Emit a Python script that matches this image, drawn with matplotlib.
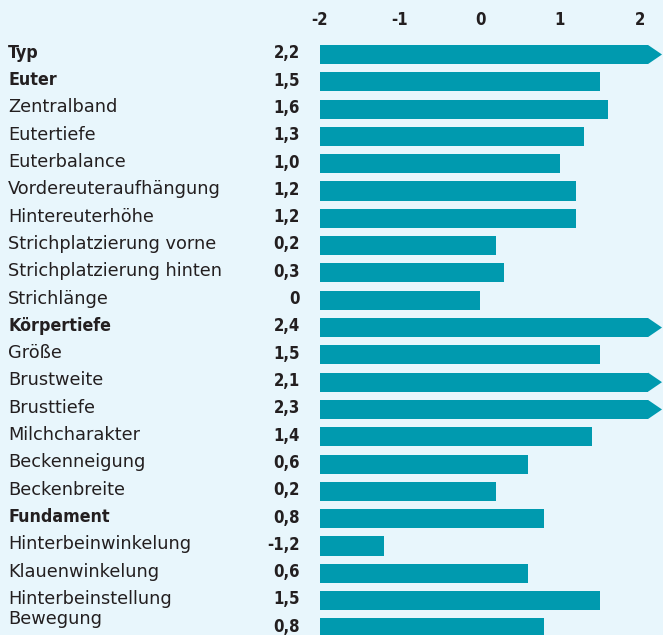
import numpy as np
import matplotlib.pyplot as plt
from matplotlib.patches import Polygon

# Merkmale und Zuchtwerte
labels = ['Typ', 'Euter', 'Zentralband', 'Eutertiefe', 'Euterbalance',
          'Vordereuteraufhängung', 'Hintereuterhöhe', 'Strichplatzierung vorne',
          'Strichplatzierung hinten', 'Strichlänge', 'Körpertiefe', 'Größe',
          'Brustweite', 'Brusttiefe', 'Milchcharakter', 'Beckenneigung',
          'Beckenbreite', 'Fundament', 'Hinterbeinwinkelung', 'Klauenwinkelung',
          'Hinterbeinstellung', 'Bewegung']
values = [2.2, 1.5, 1.6, 1.3, 1.0, 1.2, 1.2, 0.2, 0.3, 0.0, 2.4, 1.5,
          2.1, 2.3, 1.4, 0.6, 0.2, 0.8, -1.2, 0.6, 1.5, 0.8]
bold_rows = ['Typ', 'Euter', 'Körpertiefe', 'Fundament']
ticks = [-2, -1, 0, 1, 2]

bg = '#e8f6fc'
bar_color = '#009aaf'
text_color = '#231f20'

fig = plt.figure(figsize=(6.63, 6.35), dpi=100, facecolor=bg)
ax = fig.add_axes([0, 0, 1, 1])
ax.set_facecolor(bg)
ax.set_xlim(-6, 2.2875)
ax.set_ylim(21.26, -1.996)
ax.axis('off')

base = -2
cap = 2.1
h = 0.7
n = len(labels)

for i, (lab, v) in enumerate(zip(labels, values)):
    if v > 2:
        # Wert ausserhalb der Skala: Balken mit Pfeilspitze
        ax.barh(i, cap - base, left=base, height=h, color=bar_color)
        tri = Polygon([[cap, i - h / 2], [2.275, i], [cap, i + h / 2]],
                      closed=True, color=bar_color, lw=0)
        ax.add_patch(tri)
    else:
        ax.barh(i, v - base, left=base, height=h, color=bar_color)

    # letzte Zeile etwas hoeher, damit sie nicht abgeschnitten wird
    ly = min(i + 0.12, n - 1.13)
    if lab in bold_rows:
        ax.text(-5.9, ly, lab, ha='left', va='baseline', fontsize=12.8,
                fontweight='bold', fontstretch='condensed',
                family='DejaVu Sans', color=text_color)
    else:
        ax.text(-5.9, ly, lab, ha='left', va='baseline', fontsize=12.8,
                family='DejaVu Sans', color=text_color)
    txt = '0' if v == 0 else ('%.1f' % v).replace('.', ',')
    ax.text(-2.25, i + 0.14, txt, ha='right', va='baseline', fontsize=12,
            fontweight='bold', fontstretch='condensed', family='DejaVu Sans',
            color=text_color)

for t in ticks:
    ax.text(t, -1.08, str(t), ha='center', va='baseline', fontsize=12,
            fontweight='bold', fontstretch='condensed', family='DejaVu Sans',
            color=text_color)

plt.savefig('out.png', dpi=100, facecolor=bg)
